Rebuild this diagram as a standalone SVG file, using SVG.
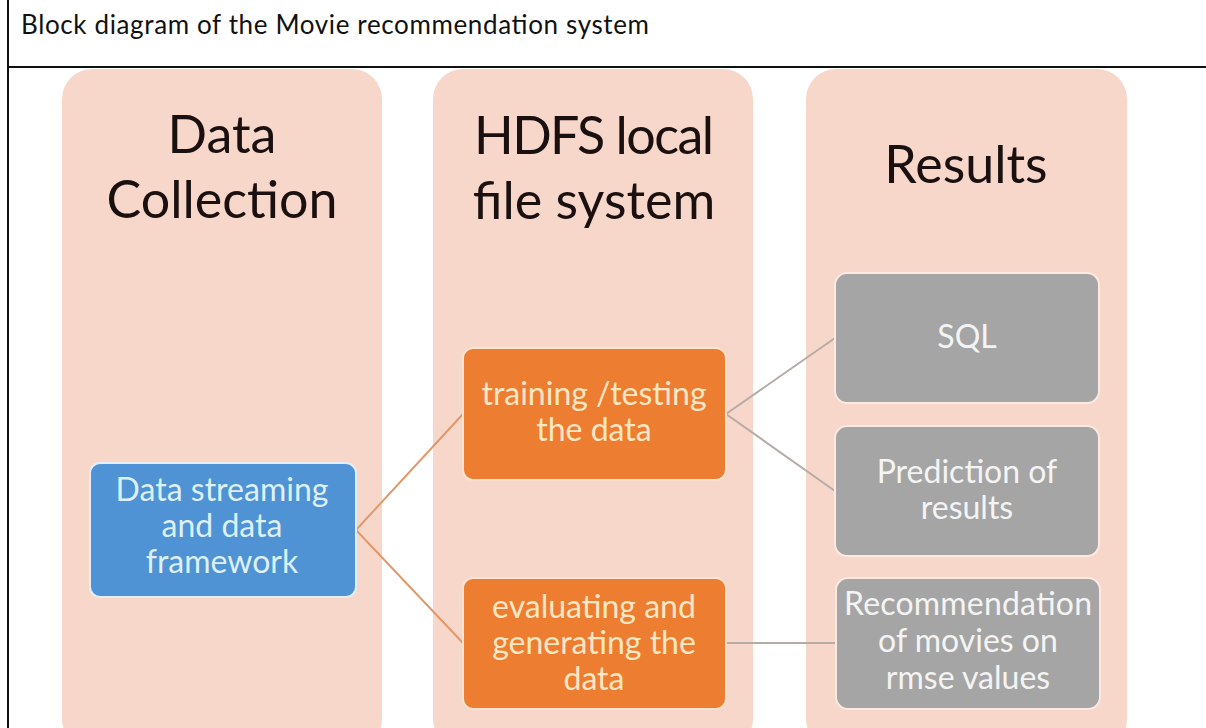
<svg xmlns="http://www.w3.org/2000/svg" width="1206" height="728" viewBox="0 0 1206 728">
<style>
.col{fill:#F8D7CB}
.hdr{font-family:Lato,"Open Sans",sans-serif;font-size:52px;fill:#1a1010;text-anchor:middle}
.bt{font-family:Lato,"Open Sans",sans-serif;font-size:32px;text-anchor:middle}
.blue{fill:#5093D4;stroke:#E4EEF6;stroke-width:2}
.orange{fill:#ED7D31;stroke:#FBE3D2;stroke-width:2}
.gray{fill:#A5A5A5;stroke:#FBE9E2;stroke-width:2}
.tb{fill:#DDF0F8}
.to{fill:#FDE7C4}
.tg{fill:#F4F4F4}
.lo{stroke:#E2986A;stroke-width:2;fill:none}
.lg{stroke:#B7ABA8;stroke-width:2;fill:none}
</style>
<rect x="0" y="0" width="1206" height="728" fill="#FFFFFF"/>
<g id="frame">
<line x1="8" y1="0" x2="8" y2="728" stroke="#111" stroke-width="2"/>
<line x1="8" y1="67" x2="1206" y2="67" stroke="#111" stroke-width="2"/>
<text x="21" y="34" font-family="Lato,'Open Sans',sans-serif" font-size="26" fill="#111" textLength="628">Block diagram of the Movie recommendation system</text>
</g>
<g id="col-data-collection">
<rect class="col" x="62" y="69" width="320" height="680" rx="30"/>
<text class="hdr" x="222" y="153">Data</text>
<text class="hdr" x="222" y="218">Collection</text>
</g>
<g id="col-hdfs">
<rect class="col" x="433" y="69" width="320" height="680" rx="30"/>
<text class="hdr" x="594" y="154" textLength="240">HDFS local</text>
<text class="hdr" x="594" y="219">file system</text>
</g>
<g id="col-results">
<rect class="col" x="806" y="69" width="321" height="680" rx="30"/>
<text class="hdr" x="966" y="183">Results</text>
</g>
<g id="connectors">
<polyline class="lo" points="463,414 356,530 463,643"/>
<polyline class="lg" points="835,338 726,414 835,491"/>
<line class="lg" x1="726" y1="643" x2="836" y2="643"/>
</g>
<g id="node-streaming">
<rect class="blue" x="90" y="463" width="266" height="134" rx="10"/>
<text class="bt tb" x="222" y="501">Data streaming</text>
<text class="bt tb" x="222" y="537">and data</text>
<text class="bt tb" x="222" y="573">framework</text>
</g>
<g id="node-training">
<rect class="orange" x="463" y="348" width="263" height="132" rx="10"/>
<text class="bt to" x="594" y="405">training /testing</text>
<text class="bt to" x="594" y="441">the data</text>
</g>
<g id="node-evaluating">
<rect class="orange" x="463" y="578" width="263" height="131" rx="10"/>
<text class="bt to" x="594" y="618">evaluating and</text>
<text class="bt to" x="594" y="654">generating the</text>
<text class="bt to" x="594" y="690">data</text>
</g>
<g id="node-sql">
<rect class="gray" x="835" y="273" width="264" height="130" rx="12"/>
<text class="bt tg" x="967" y="348">SQL</text>
</g>
<g id="node-prediction">
<rect class="gray" x="835" y="426" width="264" height="130" rx="12"/>
<text class="bt tg" x="967" y="483">Prediction of</text>
<text class="bt tg" x="967" y="519">results</text>
</g>
<g id="node-recommendation">
<rect class="gray" x="836" y="578" width="264" height="131" rx="12"/>
<text class="bt tg" x="968" y="615" textLength="248">Recommendation</text>
<text class="bt tg" x="968" y="652">of movies on</text>
<text class="bt tg" x="968" y="689">rmse values</text>
</g>
</svg>
